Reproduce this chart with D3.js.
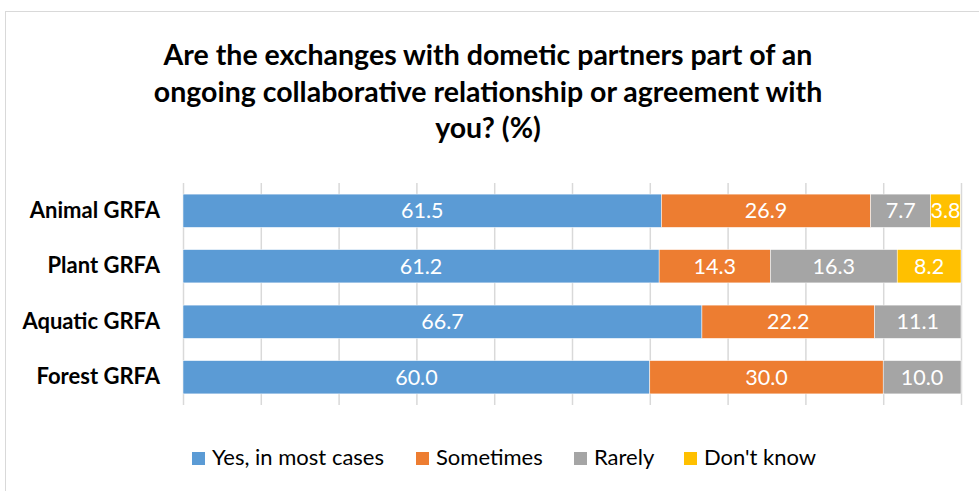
<!DOCTYPE html>
<html>
<head>
<meta charset="utf-8">
<script src="https://cdn.jsdelivr.net/npm/d3@7"></script>
<style>
  html, body { margin: 0; padding: 0; background: #fff; }
  svg { display: block; font-family: Lato, "Open Sans", sans-serif; }
</style>
</head>
<body>
<div id="chart"></div>
<script>
const titleLines = ["Are the exchanges with dometic partners part of an",
  "ongoing collaborative relationship or agreement with",
  "you? (%)"]
const categories = ["Animal GRFA", "Plant GRFA", "Aquatic GRFA", "Forest GRFA"]
const seriesNames = ["Yes, in most cases", "Sometimes", "Rarely", "Don't know"]
const yesValues = [61.5, 61.2, 66.7, 60.0]
const sometimesValues = [26.9, 14.3, 22.2, 30.0]
const rarelyValues = [7.7, 16.3, 11.1, 10.0]
const dontKnowValues = [3.8, 8.2, 0, 0]
const colors = ["#5B9BD5", "#ED7D31", "#A5A5A5", "#FFC000"]

const width = 979, height = 491
const margin = {top: 183, right: 18, bottom: 86, left: 183}

const rows = categories.map((c, i) => ({
  cat: c,
  "Yes, in most cases": yesValues[i],
  "Sometimes": sometimesValues[i],
  "Rarely": rarelyValues[i],
  "Don't know": dontKnowValues[i]
}))

const stack = d3.stack().keys(seriesNames)(rows)

const x = d3.scaleLinear().domain([0, 100]).range([margin.left, width - margin.right])
const y = d3.scaleBand().domain(categories).range([margin.top, height - margin.bottom]).paddingInner(0.4).paddingOuter(0.2)
const color = d3.scaleOrdinal().domain(seriesNames).range(colors)

const svg = d3.select("#chart").append("svg")
    .attr("width", width)
    .attr("height", height)

// chart frame
svg.append("rect")
  .attr("x", 5.5).attr("y", 11.5)
  .attr("width", width).attr("height", height)
  .attr("fill", "none")
  .attr("stroke", "#d9d9d9")

// title
svg.append("text")
  .attr("text-anchor", "middle")
  .attr("font-weight", "bold")
  .attr("font-size", 28.5)
  .attr("fill", "#000")
  .selectAll("tspan")
  .data(titleLines)
  .join("tspan")
  .attr("x", 488)
  .attr("y", (d, i) => 65 + i * 36.5)
  .text(d => d)

// gridlines
svg.append("g")
  .attr("transform", `translate(0,${height - margin.bottom})`)
  .call(d3.axisBottom(x).tickValues(d3.range(0, 101, 10)).tickSize(-(height - margin.top - margin.bottom)).tickFormat(""))
  .call(g => g.select(".domain").remove())
  .call(g => g.selectAll(".tick line").attr("stroke", "#d9d9d9").attr("stroke-width", 1.5))

// category labels
svg.append("g")
  .attr("transform", `translate(${margin.left},0)`)
  .call(d3.axisLeft(y).tickSize(0).tickPadding(23))
  .call(g => g.select(".domain").remove())
  .call(g => g.selectAll("text")
    .attr("font-family", "Lato, sans-serif")
    .attr("font-size", 22)
    .attr("font-weight", "bold")
    .attr("fill", "#000"))

// bars
const layer = svg.append("g")
  .selectAll("g")
  .data(stack)
  .join("g")
  .attr("fill", d => color(d.key))

layer.selectAll("rect")
  .data(d => d.filter(s => s[1] - s[0] > 0))
  .join("rect")
  .attr("x", d => x(d[0]))
  .attr("y", d => y(d.data.cat))
  .attr("width", d => x(d[1]) - x(d[0]))
  .attr("height", y.bandwidth())
  .attr("stroke", "#fff")
  .attr("stroke-width", 0.5)

layer.selectAll("text")
  .data(d => d.filter(s => s[1] - s[0] > 0))
  .join("text")
  .attr("x", d => (x(d[0]) + x(d[1])) / 2)
  .attr("y", d => y(d.data.cat) + y.bandwidth() / 2)
  .attr("dy", "0.36em")
  .attr("text-anchor", "middle")
  .attr("fill", "#fff")
  .attr("font-size", 21.5)
  .text(d => d3.format(".1f")(d[1] - d[0]))

// legend
const legendX = [192, 416, 574, 684]
const legend = svg.append("g")
  .selectAll("g")
  .data(seriesNames)
  .join("g")
  .attr("transform", (d, i) => `translate(${legendX[i]},458)`)

legend.append("rect")
  .attr("x", 0).attr("y", -6)
  .attr("width", 13).attr("height", 13)
  .attr("fill", d => color(d))

legend.append("text")
  .attr("x", 20)
  .attr("y", 7)
  .attr("font-size", 22)
  .attr("fill", "#000")
  .text(d => d)
</script>
</body>
</html>
